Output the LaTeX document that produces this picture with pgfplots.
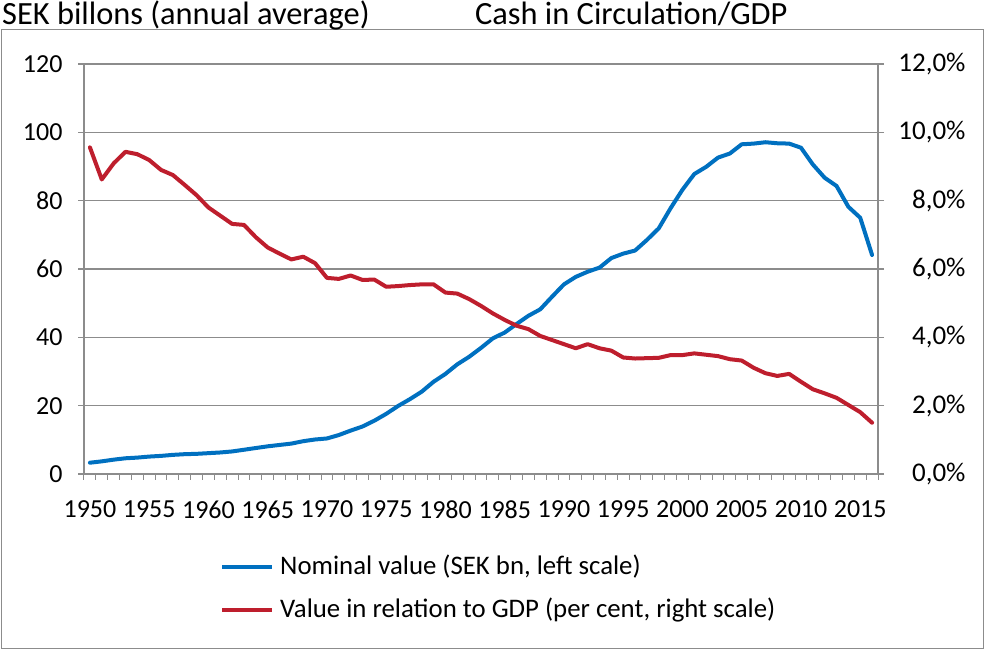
\documentclass[border=0pt]{standalone}
\usepackage{pgfplots}
\pgfplotsset{compat=1.18}
\usepackage{fontspec}
\setmainfont{Carlito}
\definecolor{cblue}{RGB}{0,112,192}
\definecolor{cred}{RGB}{190,30,45}
\definecolor{cgrid}{RGB}{140,140,140}

\pgfplotstableread{
year val
1950 3.3
1951 3.7
1952 4.2
1953 4.6
1954 4.8
1955 5.1
1956 5.3
1957 5.6
1958 5.8
1959 5.9
1960 6.1
1961 6.3
1962 6.6
1963 7.1
1964 7.6
1965 8.1
1966 8.5
1967 8.9
1968 9.6
1969 10.1
1970 10.4
1971 11.4
1972 12.7
1973 13.9
1974 15.6
1975 17.6
1976 19.9
1977 21.9
1978 24.1
1979 27.0
1980 29.3
1981 32.1
1982 34.3
1983 36.9
1984 39.7
1985 41.4
1986 43.9
1987 46.3
1988 48.2
1989 51.9
1990 55.5
1991 57.7
1992 59.2
1993 60.4
1994 63.2
1995 64.5
1996 65.4
1997 68.5
1998 71.9
1999 77.8
2000 83.2
2001 87.8
2002 89.9
2003 92.6
2004 93.8
2005 96.5
2006 96.7
2007 97.1
2008 96.8
2009 96.7
2010 95.5
2011 90.6
2012 86.7
2013 84.3
2014 78.2
2015 75.0
2016 64.1
}\nominal

\pgfplotstableread{
year val
1950 9.56
1951 8.62
1952 9.09
1953 9.43
1954 9.36
1955 9.19
1956 8.90
1957 8.75
1958 8.46
1959 8.16
1960 7.80
1961 7.56
1962 7.32
1963 7.29
1964 6.93
1965 6.63
1966 6.45
1967 6.28
1968 6.36
1969 6.17
1970 5.74
1971 5.71
1972 5.81
1973 5.68
1974 5.69
1975 5.48
1976 5.50
1977 5.53
1978 5.55
1979 5.55
1980 5.31
1981 5.28
1982 5.12
1983 4.92
1984 4.70
1985 4.51
1986 4.34
1987 4.24
1988 4.04
1989 3.92
1990 3.80
1991 3.68
1992 3.80
1993 3.68
1994 3.61
1995 3.41
1996 3.38
1997 3.39
1998 3.40
1999 3.48
2000 3.48
2001 3.53
2002 3.49
2003 3.45
2004 3.36
2005 3.32
2006 3.11
2007 2.95
2008 2.87
2009 2.93
2010 2.70
2011 2.48
2012 2.36
2013 2.23
2014 2.02
2015 1.81
2016 1.50
}\ratio

\begin{document}
\begin{tikzpicture}[x=1pt,y=1pt]
\path (-84,-176) rectangle (901,474);
\draw[cgrid, line width=1pt] (-82,-174) rectangle (899,444);
\node[anchor=base west, inner sep=0, font=\fontsize{32.4}{32.4}\selectfont] at (-82,449) {SEK billons (annual average)};
\node[anchor=base west, inner sep=0, font=\fontsize{32.4}{32.4}\selectfont] at (391,449) {Cash in Circulation/GDP};

\begin{axis}[at={(0,0)}, anchor=south west, scale only axis,
  width=794pt, height=410pt,
  xmin=1949.5, xmax=2016.5, ymin=0, ymax=120,
  axis y line*=left, axis x line*=bottom,
  axis line style={cgrid, line width=1.2pt, -},
  xtick={1950,1955,...,2015},
  minor xtick={1949.5,1950.5,...,2016.5},
  major x tick style={draw=none},
  minor x tick style={cgrid, line width=1pt},
  minor tick length=6pt,
  ytick={0,20,...,120},
  y tick style={cgrid, line width=1.2pt},
  major tick length=6pt,
  tick align=outside,
  ymajorgrids, grid style={cgrid, line width=1.2pt},
  /pgf/number format/assume math mode=true,
  xticklabel style={/pgf/number format/1000 sep={}, font=\fontsize{26}{26}\selectfont, yshift=-17pt},
  yticklabel style={font=\fontsize{26}{26}\selectfont, xshift=-12pt},
  clip=false,
]
\addplot[cblue, line width=4pt, line join=round, line cap=round] table[x=year, y=val] {\nominal};
\end{axis}

\begin{axis}[at={(0,0)}, anchor=south west, scale only axis,
  width=794pt, height=410pt,
  xmin=1949.5, xmax=2016.5, ymin=0, ymax=12,
  axis y line*=right, axis x line=none,
  axis line style={cgrid, line width=1.2pt, -},
  ytick={0,2,...,12},
  y tick style={cgrid, line width=1.2pt},
  major tick length=6pt,
  tick align=outside,
  /pgf/number format/assume math mode=true,
  yticklabel={\pgfmathprintnumber[fixed,fixed zerofill,precision=1,use comma]{\tick}\%},
  yticklabel style={font=\fontsize{27}{27}\selectfont, anchor=east, xshift=85pt},
  clip=false,
]
\addplot[cred, line width=4pt, line join=round, line cap=round] table[x=year, y=val] {\ratio};
\end{axis}

\draw[cblue, line width=4pt] (138,-93) -- (188,-93);
\node[anchor=west, inner sep=0, font=\fontsize{26.8}{26.8}\selectfont] at (196,-93) {Nominal value (SEK bn, left scale)};
\draw[cred, line width=4pt] (138,-136) -- (188,-136);
\node[anchor=west, inner sep=0, font=\fontsize{26.8}{26.8}\selectfont] at (196,-136) {Value in relation to GDP (per cent, right scale)};
\end{tikzpicture}
\end{document}
